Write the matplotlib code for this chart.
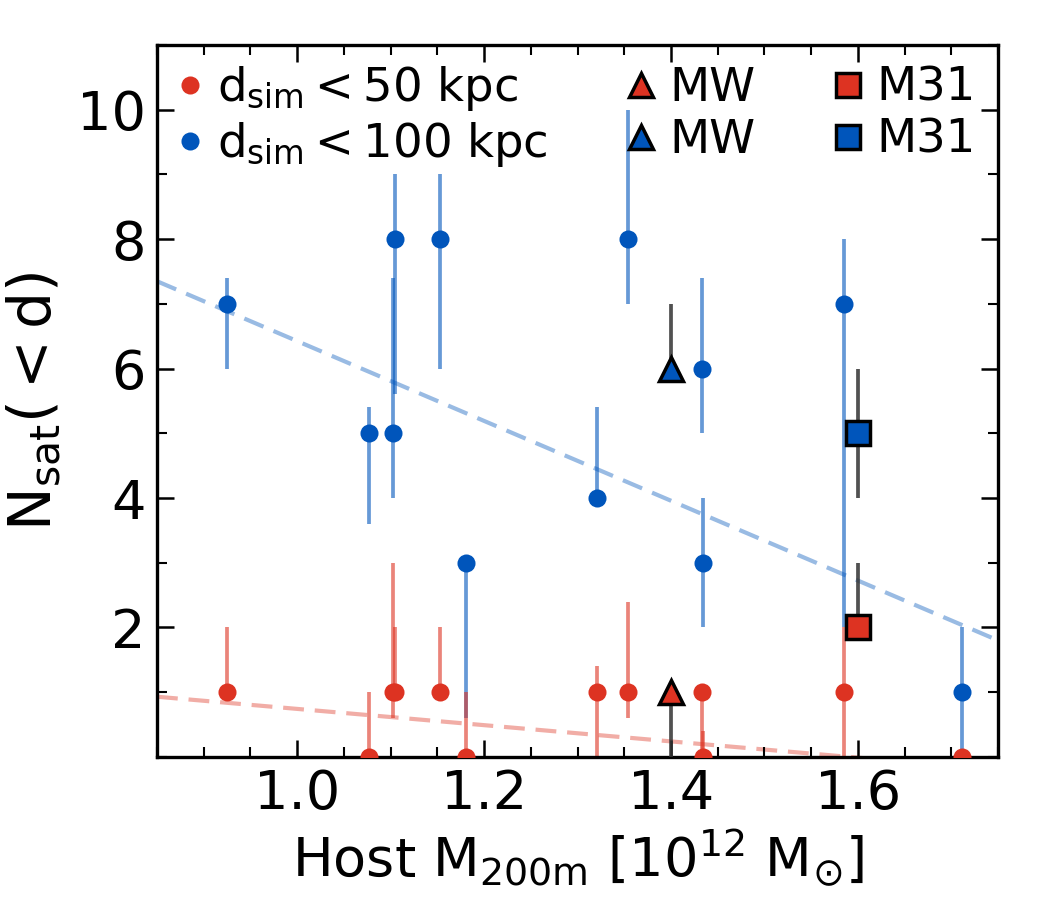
import numpy as np
import matplotlib
matplotlib.use("Agg")
import matplotlib.pyplot as plt
from matplotlib.ticker import MultipleLocator
from matplotlib.lines import Line2D

plt.rcParams['font.family'] = ['DejaVu Sans']
plt.rcParams['mathtext.default'] = 'regular'

# host halo masses [1e12 Msun]
host_mass = [0.925, 1.077, 1.103, 1.105, 1.153, 1.181, 1.321, 1.354, 1.433, 1.434, 1.585, 1.711]

# satellites within 100 kpc
n100 = [7, 5, 5, 8, 8, 3, 4, 8, 6, 3, 7, 1]
n100_lo = [1.0, 1.4, 1.0, 2.4, 2.0, 2.4, 0.0, 1.0, 1.0, 1.0, 5.0, 1.0]
n100_hi = [0.4, 0.4, 2.4, 1.0, 1.0, 0.0, 1.4, 2.0, 1.4, 1.0, 1.0, 1.0]

# satellites within 50 kpc
n50 = [1, 0, 1, 1, 1, 0, 1, 1, 1, 0, 1, 0]
n50_lo = [0.0, 0.0, 0.4, 0.0, 0.0, 0.0, 1.0, 0.4, 1.0, 0.0, 1.0, 0.0]
n50_hi = [1.0, 1.0, 2.0, 1.0, 1.0, 1.0, 0.4, 1.4, 0.0, 0.4, 1.0, 0.0]

# observed MW and M31 (50 kpc, 100 kpc)
mw_mass = 1.4
mw_n = [1, 6]
mw_lo = [1, 0]
mw_hi = [0, 1]
m31_mass = 1.6
m31_n = [2, 5]
m31_lo = [0, 1]
m31_hi = [1, 1]

# trend lines
fit_x = [0.85, 1.75]
fit100_y = [7.35, 1.80]
fit50_y = [0.93, -0.20]

red = '#dd3322'
blue = '#0055bb'
grey = '#333333'

fig = plt.figure(figsize=(10.5, 9), dpi=100)
ax = fig.add_axes([0.1495, 0.159, 0.801, 0.791])

dash = (5.0, 2.6)
ax.plot(fit_x, fit100_y, color=blue, alpha=0.4, lw=3, dashes=dash, zorder=1)
ax.plot(fit_x, fit50_y, color=red, alpha=0.4, lw=3, dashes=dash, zorder=1)

ax.errorbar(host_mass, n100, yerr=[n100_lo, n100_hi], fmt='none', ecolor=blue,
            alpha=0.6, elinewidth=2.7, capsize=0, zorder=2)
ax.errorbar(host_mass, n50, yerr=[n50_lo, n50_hi], fmt='none', ecolor=red,
            alpha=0.6, elinewidth=2.7, capsize=0, zorder=2)
ax.plot(host_mass, n100, 'o', color=blue, ms=13, mew=0, zorder=3)
ax.plot(host_mass, n50, 'o', color=red, ms=13, mew=0, zorder=3)

for xm, yv, lo, hi, mk, ms in [(mw_mass, mw_n, mw_lo, mw_hi, '^', 17),
                               (m31_mass, m31_n, m31_lo, m31_hi, 's', 17)]:
    ax.errorbar([xm, xm], yv, yerr=[lo, hi], fmt='none', ecolor=grey, alpha=0.85,
                elinewidth=2.7, capsize=0, zorder=4)
    for yy, c in zip(yv, [red, blue]):
        ax.plot(xm, yy, mk, color=c, ms=ms, mec='black', mew=2.5, zorder=5)

ax.set_xlim(0.85, 1.75)
ax.set_ylim(0, 11)
ax.set_yticks([2, 4, 6, 8, 10])
ax.xaxis.set_major_locator(MultipleLocator(0.2))
ax.xaxis.set_minor_locator(MultipleLocator(0.05))
ax.yaxis.set_minor_locator(MultipleLocator(1))
ax.tick_params(which='both', direction='in', top=True, right=True, labelsize=39)
ax.tick_params(which='major', length=12, width=1.8, pad=8)
ax.tick_params(which='minor', length=7, width=1.5)
for s in ax.spines.values():
    s.set_linewidth(2.4)

ax.set_xlabel(r'Host M$_{200m}$ [10$^{12}$ M$_{\odot}$]', fontsize=39, labelpad=4)
ax.set_ylabel(r'N$_{sat}$$( < d)$', fontsize=42, labelpad=10)

handles = [
    Line2D([], [], ls='none', marker='o', color=red, ms=13, mew=0),
    Line2D([], [], ls='none', marker='o', color=blue, ms=13, mew=0),
    Line2D([], [], ls='none', marker='^', color=red, ms=17, mec='black', mew=2.5),
    Line2D([], [], ls='none', marker='^', color=blue, ms=17, mec='black', mew=2.5),
    Line2D([], [], ls='none', marker='s', color=red, ms=17, mec='black', mew=2.5),
    Line2D([], [], ls='none', marker='s', color=blue, ms=17, mec='black', mew=2.5),
]
labels = [r'd$_{sim} < 50$ kpc', r'd$_{sim} < 100$ kpc', 'MW', 'MW', 'M31', 'M31']
ax.legend(handles, labels, ncol=3, frameon=False, fontsize=33.5, loc='upper left',
          bbox_to_anchor=(0.0, 0.993), borderaxespad=0.0, borderpad=0.3,
          handlelength=0.8, handletextpad=0.2, columnspacing=1.6, labelspacing=0.15)

fig.savefig('out.png', dpi=100)
